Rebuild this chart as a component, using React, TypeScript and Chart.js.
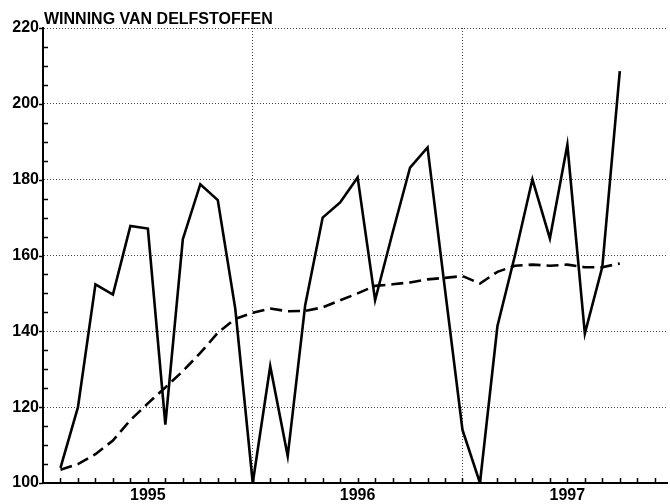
import { useEffect, useRef } from 'react';
import { Chart, registerables } from 'chart.js';

Chart.register(...registerables);

const TITLE = 'WINNING VAN DELFSTOFFEN';
// month index (1 = end of Jan 1995)
const months = [1, 2, 3, 4, 5, 6, 7, 8, 9, 10, 11, 12, 13, 14, 15, 16, 17, 18, 19, 20, 21, 22, 23, 24, 25, 26, 27, 28, 29, 30, 31, 32, 33];
const production = [104, 120, 152.4, 149.7, 167.8, 167.1, 115.4, 164.3, 178.8, 174.6, 146, 100, 130.8, 107.1, 146.9, 170, 174, 180.6, 148.2, 166, 183.2, 188.5, 151, 114, 100, 141.4, 160, 180.1, 164.5, 189.2, 139.4, 157, 208.6];
const trend = [103.5, 105, 107.6, 111.2, 116.6, 121, 125.2, 129.5, 134.3, 139.6, 143.3, 144.9, 146, 145.3, 145.4, 146.3, 148.2, 150, 152, 152.4, 152.9, 153.7, 154.1, 154.6, 152.6, 155.7, 157.3, 157.6, 157.3, 157.6, 156.9, 156.9, 157.9];
const yearLabels = ['1995', '1996', '1997'];
const Y_MIN = 100;
const Y_MAX = 220;
const Y_MAJOR = 20;
const Y_MINOR = 5;
const X_MIN = 0;
const X_MAX = 35.7;

const FONT = '"Liberation Sans", Arial, Helvetica, sans-serif';

export default function App() {
  const ref = useRef<HTMLCanvasElement | null>(null);

  useEffect(() => {
    document.body.style.margin = '0';
    const canvas = ref.current;
    if (!canvas) return;

    const decorPlugin = {
      id: 'decor',
      afterDraw(chart: any) {
        const ctx = chart.ctx;
        const area = chart.chartArea;
        const ys = chart.scales.y;
        const xs = chart.scales.x;
        ctx.save();
        ctx.strokeStyle = '#000';
        ctx.lineWidth = 1.5;
        // y ticks
        for (let v = Y_MIN; v <= Y_MAX; v += Y_MINOR) {
          const py = Math.round(ys.getPixelForValue(v)) + 0.5;
          ctx.beginPath();
          if (v % Y_MAJOR === 0) {
            ctx.moveTo(area.left - 4, py);
            ctx.lineTo(area.left, py);
          } else {
            ctx.moveTo(area.left, py);
            ctx.lineTo(area.left + 5, py);
          }
          ctx.stroke();
        }
        // x month ticks
        for (let m = 1; m < X_MAX; m++) {
          const px = Math.round(xs.getPixelForValue(m)) + 0.5;
          ctx.beginPath();
          ctx.moveTo(px, area.bottom);
          ctx.lineTo(px, area.bottom - 5);
          ctx.stroke();
        }
        // title
        ctx.fillStyle = '#000';
        ctx.font = `bold 16px ${FONT}`;
        ctx.textAlign = 'left';
        ctx.textBaseline = 'alphabetic';
        ctx.fillText(TITLE, area.left + 1, area.top - 4);
        ctx.restore();
      },
    };

    const chart = new Chart(canvas, {
      type: 'line',
      data: {
        datasets: [
          {
            label: 'Winning',
            data: months.map((m, i) => ({ x: m, y: production[i] })),
            borderColor: '#000',
            borderWidth: 2.6,
            pointRadius: 0,
            tension: 0,
            fill: false,
          },
          {
            label: 'Trend',
            data: months.map((m, i) => ({ x: m, y: trend[i] })),
            borderColor: '#000',
            borderWidth: 2.6,
            borderDash: [12, 6],
            pointRadius: 0,
            tension: 0,
            fill: false,
          },
        ],
      },
      options: {
        responsive: false,
        animation: false,
        layout: { padding: { top: 28, left: 0, right: 0, bottom: 0 } },
        plugins: {
          legend: { display: false },
          title: { display: false },
          tooltip: { enabled: false },
        },
        scales: {
          x: {
            type: 'linear',
            min: X_MIN,
            max: X_MAX,
            afterFit: (s: any) => {
              s.height = 21;
            },
            border: { display: true, color: '#000', width: 2, dash: [1, 2] },
            grid: {
              drawTicks: false,
              lineWidth: 1,
              color: (c: any) => {
                const v = Math.round(c.tick?.value ?? -1);
                return v > 0 && v % 12 === 0 && Math.abs(c.tick.value - v) < 1e-6 ? '#444' : 'rgba(0,0,0,0)';
              },
            },
            ticks: {
              stepSize: 1,
              autoSkip: false,
              maxRotation: 0,
              padding: 3,
              color: '#000',
              font: { family: FONT, size: 16, weight: 'bold' },
              callback: (value: any) => {
                const v = Number(value);
                if (Math.abs(v - Math.round(v)) > 1e-6) return '';
                const r = Math.round(v);
                if (r % 12 === 6) {
                  const idx = (r - 6) / 12;
                  return yearLabels[idx] ?? '';
                }
                return '';
              },
            },
          },
          y: {
            type: 'linear',
            min: Y_MIN,
            max: Y_MAX,
            afterFit: (s: any) => {
              s.width = 43;
            },
            border: { display: true, color: '#000', width: 2, dash: [1, 2] },
            grid: {
              drawTicks: false,
              lineWidth: 1,
              color: (c: any) => {
                const v = c.tick?.value;
                return v !== undefined && v > Y_MIN && v % Y_MAJOR === 0 ? '#444' : 'rgba(0,0,0,0)';
              },
            },
            ticks: {
              stepSize: Y_MINOR,
              autoSkip: false,
              padding: 4,
              color: '#000',
              font: { family: FONT, size: 16, weight: 'bold' },
              callback: (value: any) => (Number(value) % Y_MAJOR === 0 ? String(value) : ''),
            },
          },
        },
      },
      plugins: [decorPlugin],
    });

    return () => {
      chart.destroy();
    };
  }, []);

  return (
    <div style={{ width: 670, height: 504, background: '#fff' }}>
      <canvas ref={ref} width={670} height={504} style={{ display: 'block', width: 670, height: 504 }} />
    </div>
  );
}
